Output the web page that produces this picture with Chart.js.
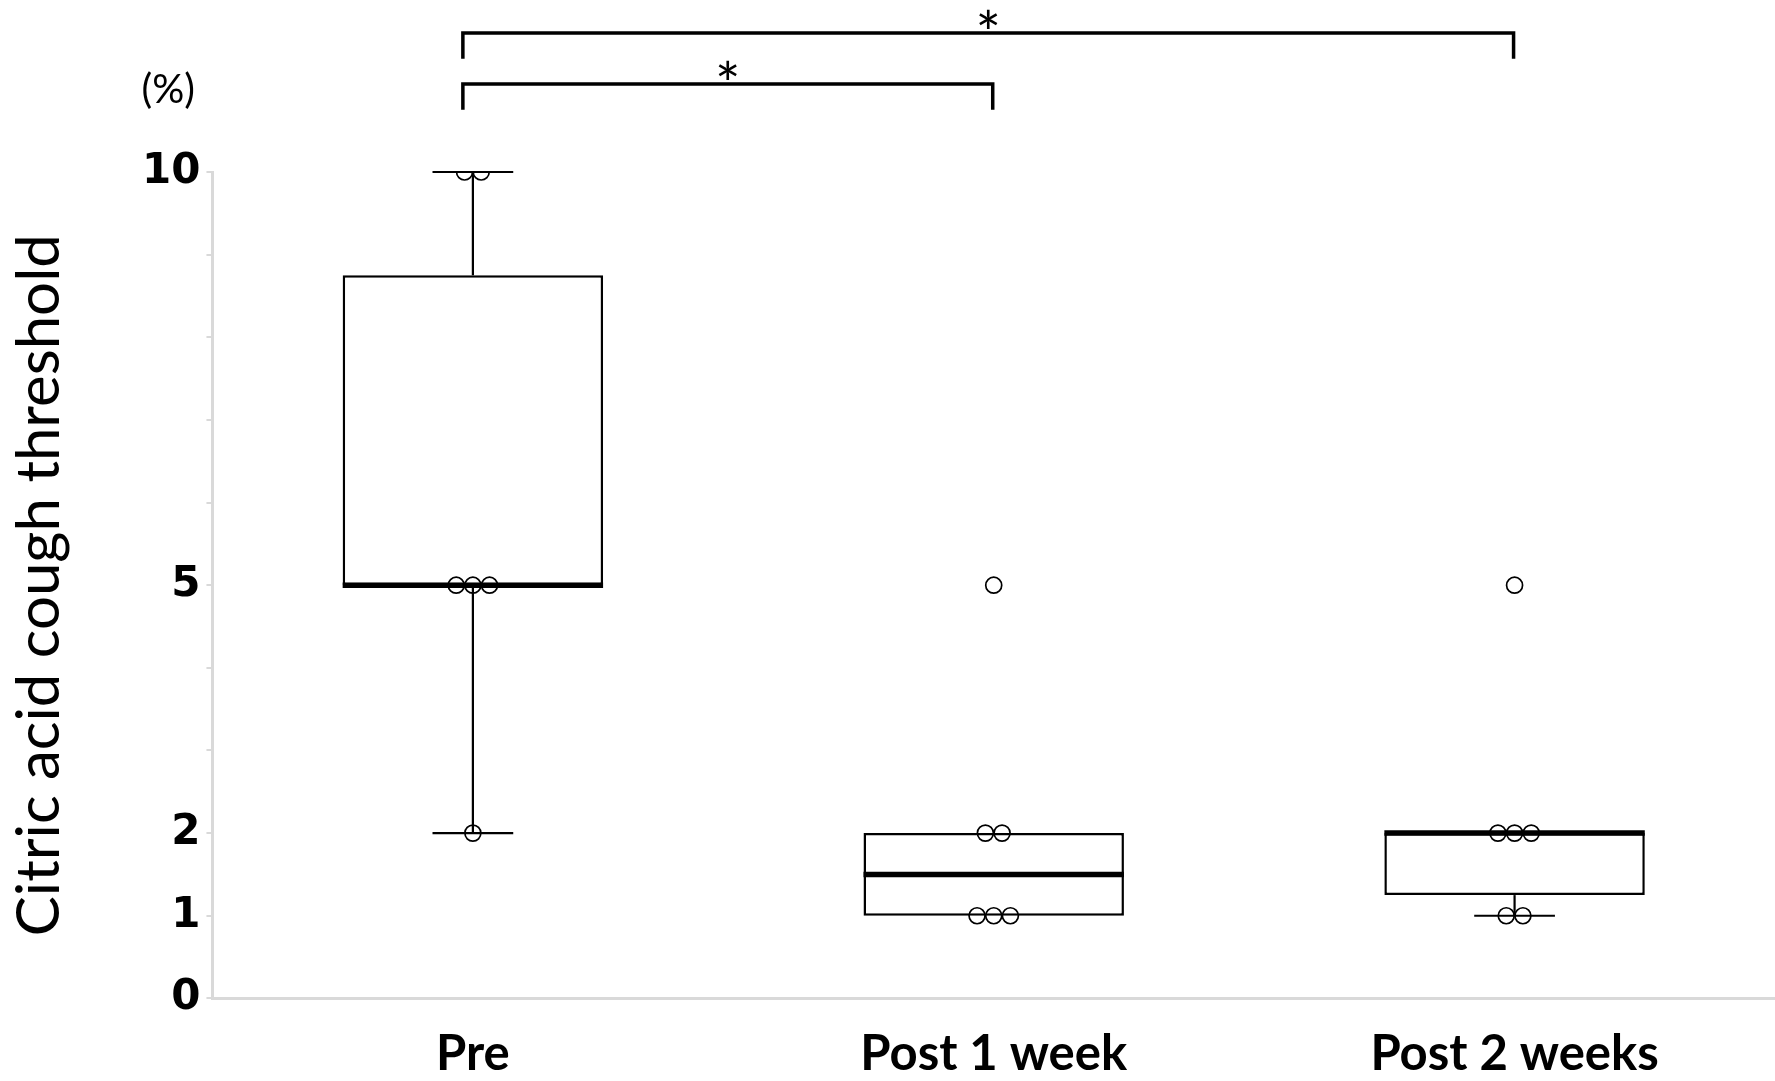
<!DOCTYPE html>
<html><head><meta charset="utf-8">
<script src="https://cdn.jsdelivr.net/npm/chart.js@4.4.1/dist/chart.umd.min.js"></script>
<style>html,body{margin:0;padding:0;background:#fff;}#wrap{width:1775px;height:1081px;position:relative;}</style>
</head><body><div id="wrap"><canvas id="c" width="1775" height="1081"></canvas></div>
<script>
// ---- data ----
const categories = ['Pre', 'Post 1 week', 'Post 2 weeks'];
const yTickLabels = [0, 1, 2, 5, 10];
const boxQ1 = [5, 1, 1.25];
const boxMedian = [5, 1.5, 2];
const boxQ3 = [8.75, 2, 2];
const whiskerLow = [2, 1, 1];
const whiskerHigh = [10, 2, 2];
const prePoints = [10, 10, 5, 5, 5, 2];
const post1Points = [5, 2, 2, 1, 1, 1];
const post2Points = [5, 2, 2, 2, 1, 1];
const compFrom = [0, 0];
const compTo = [1, 2];
const compLabel = ['*', '*'];
const yTitle = 'Citric acid cough threshold';
const unitLabel = '(%)';

// ---- build point data (identical values spread side by side) ----
const groups = [prePoints, post1Points, post2Points];
const SPREAD = 0.032;
const scatterData = [];
groups.forEach((vals, gi) => {
  const counts = {};
  vals.forEach(v => counts[v] = (counts[v] || 0) + 1);
  const seen = {};
  vals.forEach(v => {
    const k = seen[v] || 0; seen[v] = k + 1;
    const n = counts[v];
    scatterData.push({ x: gi + (k - (n - 1) / 2) * SPREAD, y: v });
  });
});

const GRAY = '#d9d9d9';

const extras = {
  id: 'extras',
  afterDatasetDraw(chart, args) {
    if (args.index !== 0) return;
    const { ctx, scales: { x, y } } = chart;
    const meta = chart.getDatasetMeta(0);
    ctx.save();
    ctx.strokeStyle = '#000';
    ctx.lineCap = 'butt';
    const line = (x1, y1, x2, y2) => { ctx.beginPath(); ctx.moveTo(x1, y1); ctx.lineTo(x2, y2); ctx.stroke(); };
    categories.forEach((c, i) => {
      const cx = x.getPixelForValue(i);
      const half = meta.data[i].width / 2;
      const capHalf = half * 0.31;
      ctx.lineWidth = 2.2;
      if (whiskerHigh[i] > boxQ3[i]) {
        line(cx, y.getPixelForValue(boxQ3[i]), cx, y.getPixelForValue(whiskerHigh[i]));
        line(cx - capHalf, y.getPixelForValue(whiskerHigh[i]), cx + capHalf, y.getPixelForValue(whiskerHigh[i]));
      }
      if (whiskerLow[i] < boxQ1[i]) {
        line(cx, y.getPixelForValue(boxQ1[i]), cx, y.getPixelForValue(whiskerLow[i]));
        line(cx - capHalf, y.getPixelForValue(whiskerLow[i]), cx + capHalf, y.getPixelForValue(whiskerLow[i]));
      }
      ctx.lineWidth = 5.5;
      line(cx - half, y.getPixelForValue(boxMedian[i]), cx + half, y.getPixelForValue(boxMedian[i]));
    });
    ctx.restore();
  },
  afterDraw(chart) {
    const { ctx, chartArea, scales: { x } } = chart;
    ctx.save();
    ctx.fillStyle = '#000';
    ctx.strokeStyle = '#000';
    ctx.lineWidth = 3.5;
    ctx.lineCap = 'square';
    ctx.lineJoin = 'miter';
    compFrom.forEach((f, k) => {
      const x1 = x.getPixelForValue(f) - 10;
      const x2 = x.getPixelForValue(compTo[k]) - 1;
      const yh = chartArea.top - 88 - k * 51;
      const drop = 24;
      ctx.beginPath();
      ctx.moveTo(x1, yh + drop); ctx.lineTo(x1, yh); ctx.lineTo(x2, yh); ctx.lineTo(x2, yh + drop);
      ctx.stroke();
      ctx.font = '60px Lato';
      ctx.textAlign = 'center';
      ctx.textBaseline = 'alphabetic';
      ctx.fillText(compLabel[k], (x1 + x2) / 2, yh + 22);
    });
    ctx.font = '40px Lato';
    ctx.textAlign = 'left';
    ctx.textBaseline = 'middle';
    ctx.fillText(unitLabel, chartArea.left - 71, chartArea.top - 82);
    ctx.restore();
  }
};

function draw() {
  new Chart(document.getElementById('c'), {
    type: 'bar',
    data: {
      datasets: [
        {
          type: 'bar',
          order: 2,
          data: categories.map((c, i) => ({ x: i, y: [boxQ1[i], boxQ3[i]] })),
          backgroundColor: '#fff',
          borderColor: '#000',
          borderWidth: 2.5,
          borderSkipped: false,
          barPercentage: 0.5,
          categoryPercentage: 1
        },
        {
          type: 'scatter',
          order: 1,
          data: scatterData,
          pointRadius: 8,
          pointBorderWidth: 1.7,
          pointBackgroundColor: 'rgba(0,0,0,0)',
          pointBorderColor: '#000'
        }
      ]
    },
    options: {
      responsive: false,
      animation: false,
      layout: { autoPadding: false, padding: { top: 172, right: 0, bottom: 0, left: 0 } },
      plugins: { legend: { display: false }, tooltip: { enabled: false } },
      scales: {
        x: {
          type: 'linear',
          min: -0.5, max: 2.5,
          offset: false,
          afterBuildTicks: (s) => { s.ticks = categories.map((c, i) => ({ value: i })); },
          afterFit: (s) => { s.height = 82.6; },
          ticks: {
            callback: (v) => categories[Math.round(v)],
            font: { family: 'Lato', weight: 'bold', size: 49 },
            color: '#000',
            padding: 26.6,
            maxRotation: 0,
            autoSkip: false
          },
          grid: { offset: false, drawOnChartArea: false, drawTicks: false },
          border: { color: GRAY, width: 3 }
        },
        y: {
          min: 0, max: 10,
          ticks: {
            stepSize: 1,
            callback: (v) => yTickLabels.includes(v) ? String(v) : '',
            font: { family: 'DejaVu Sans', weight: 'bold', size: 42 },
            color: '#000',
            padding: 6,
            autoSkip: false
          },
          grid: { drawOnChartArea: false, color: GRAY, lineWidth: 2, tickLength: 6 },
          border: { color: GRAY, width: 3 },
          title: {
            display: true,
            text: yTitle,
            font: { family: 'Lato', size: 60 },
            color: '#000',
            padding: { top: 4, bottom: 60 }
          }
        }
      }
    },
    plugins: [extras]
  });
}
Promise.all([
  document.fonts.load('60px Lato'),
  document.fonts.load('bold 49px Lato'),
  document.fonts.load('bold 42px "DejaVu Sans"')
]).then(draw, draw);
</script></body></html>
